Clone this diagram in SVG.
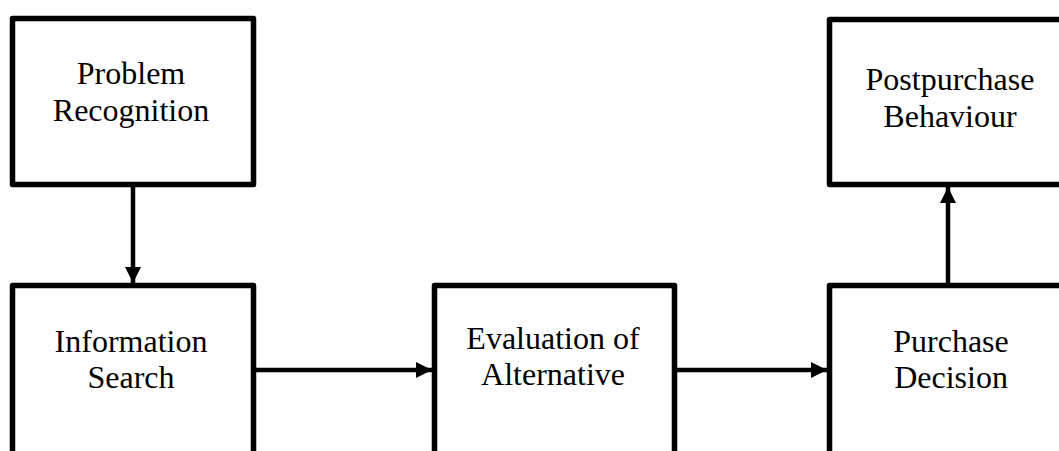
<svg xmlns="http://www.w3.org/2000/svg" width="1059" height="451" viewBox="0 0 1059 451">
  <style>
    .box { fill: #ffffff; stroke: #000000; stroke-width: 5.5; stroke-linejoin: round; }
    .lbl { font-family: "Liberation Serif", "Times New Roman", serif; font-size: 32px; fill: #000000; text-anchor: middle; }
    .conn { stroke: #000000; stroke-width: 4.5; fill: none; }
  </style>
  <defs>
    <marker id="arrow" markerUnits="userSpaceOnUse" markerWidth="18" markerHeight="18" viewBox="0 0 18 18" refX="16" refY="9" orient="auto">
      <path d="M0,1 L16,9 L0,17 Z" fill="#000000"/>
    </marker>
  </defs>
  <rect width="1059" height="451" fill="#ffffff"/>
  <g id="connectors">
    <line class="conn" x1="133" y1="187" x2="133" y2="283" marker-end="url(#arrow)"/>
    <line class="conn" x1="256" y1="370" x2="432" y2="370" marker-end="url(#arrow)"/>
    <line class="conn" x1="677" y1="370" x2="827" y2="370" marker-end="url(#arrow)"/>
    <line class="conn" x1="948" y1="283" x2="948" y2="187" marker-end="url(#arrow)"/>
  </g>
  <g id="problem-recognition">
    <rect class="box" x="12.5" y="18.5" width="241" height="166"/>
    <text class="lbl" x="131" y="84">Problem</text>
    <text class="lbl" x="131" y="121">Recognition</text>
  </g>
  <g id="information-search">
    <rect class="box" x="12.5" y="285.5" width="241" height="180"/>
    <text class="lbl" x="131" y="352">Information</text>
    <text class="lbl" x="131" y="388">Search</text>
  </g>
  <g id="evaluation-of-alternative">
    <rect class="box" x="434.5" y="285.5" width="240" height="180"/>
    <text class="lbl" x="553" y="349">Evaluation of</text>
    <text class="lbl" x="553" y="385">Alternative</text>
  </g>
  <g id="purchase-decision">
    <rect class="box" x="829.5" y="285.5" width="241" height="180"/>
    <text class="lbl" x="951" y="352">Purchase</text>
    <text class="lbl" x="951" y="388">Decision</text>
  </g>
  <g id="postpurchase-behaviour">
    <rect class="box" x="829.5" y="19.5" width="241" height="165"/>
    <text class="lbl" x="950" y="90">Postpurchase</text>
    <text class="lbl" x="950" y="127">Behaviour</text>
  </g>
</svg>
